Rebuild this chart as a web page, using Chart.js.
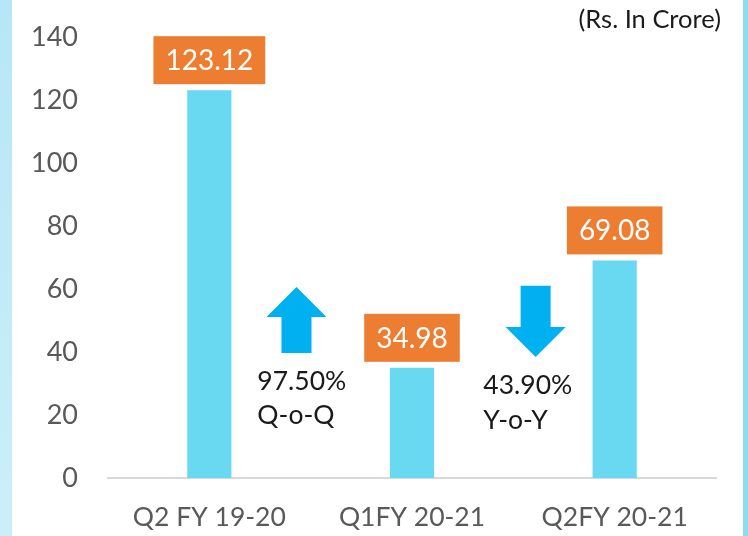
<!DOCTYPE html>
<html>
<head>
<meta charset="utf-8">
<script src="https://cdn.jsdelivr.net/npm/chart.js@4/dist/chart.umd.min.js"></script>
<style>
  body { margin: 0; background: #fff; }
  canvas { display: block; }
</style>
</head>
<body>
<canvas id="profitChart" width="748" height="536"></canvas>
<script>
const categories = ["Q2 FY 19-20", "Q1FY 20-21", "Q2FY 20-21"];
const profit = [123.12, 34.98, 69.08];
const changeValues = ["97.50%", "43.90%"];
const changeTypes = ["Q-o-Q", "Y-o-Y"];
const changeDirections = ["up", "down"];
const unitNote = "(Rs. In Crore)";

const FONT = "Lato, 'Open Sans', sans-serif";

// arrow + text placement, in category index / value units
const arrowSpots = [
    { x: 0.43, top: 60.6, bottom: 39.7, textX: 0.237, textY: [30.5, 19.7] },
    { x: 1.61, top: 61, bottom: 38.4, textX: 1.352, textY: [29.5, 18.4] }
];

const decorPlugin = {
    id: "decor",
    beforeDraw(chart) {
        const ctx = chart.ctx;
        ctx.save();
        const g = ctx.createLinearGradient(0, 0, 0, chart.height);
        g.addColorStop(0, "#b6e6f7");
        g.addColorStop(1, "#cbeff9");
        ctx.fillStyle = g;
        ctx.fillRect(0, 0, 12, chart.height);
        ctx.fillStyle = "#8fdcef";
        ctx.fillRect(743, 0, 5, chart.height);
        ctx.restore();
    },
    afterDatasetsDraw(chart) {
        const ctx = chart.ctx;
        const x = chart.scales.x, y = chart.scales.y;
        ctx.save();

        // value boxes
        const meta = chart.getDatasetMeta(0);
        ctx.font = "28px " + FONT;
        ctx.textAlign = "center";
        ctx.textBaseline = "middle";
        meta.data.forEach((bar, i) => {
            const txt = profit[i].toFixed(2);
            const w = ctx.measureText(txt).width + 24;
            const h = 48;
            const bottom = bar.y - 6;
            ctx.fillStyle = "#ed7d31";
            ctx.fillRect(bar.x - w / 2, bottom - h, w, h);
            ctx.fillStyle = "#ffffff";
            ctx.fillText(txt, bar.x, bottom - h / 2 + 1);
        });

        // arrows
        ctx.fillStyle = "#00b0f0";
        arrowSpots.forEach((s, i) => {
            const cx = x.getPixelForValue(s.x);
            const top = y.getPixelForValue(s.top);
            const bot = y.getPixelForValue(s.bottom);
            const headW = 60, shaftW = 30, headH = 30;
            ctx.beginPath();
            if (changeDirections[i] === "up") {
                ctx.moveTo(cx, top);
                ctx.lineTo(cx + headW / 2, top + headH);
                ctx.lineTo(cx + shaftW / 2, top + headH);
                ctx.lineTo(cx + shaftW / 2, bot);
                ctx.lineTo(cx - shaftW / 2, bot);
                ctx.lineTo(cx - shaftW / 2, top + headH);
                ctx.lineTo(cx - headW / 2, top + headH);
            } else {
                ctx.moveTo(cx, bot);
                ctx.lineTo(cx + headW / 2, bot - headH);
                ctx.lineTo(cx + shaftW / 2, bot - headH);
                ctx.lineTo(cx + shaftW / 2, top);
                ctx.lineTo(cx - shaftW / 2, top);
                ctx.lineTo(cx - shaftW / 2, bot - headH);
                ctx.lineTo(cx - headW / 2, bot - headH);
            }
            ctx.closePath();
            ctx.fill();
        });

        // change texts
        ctx.fillStyle = "#1a1a1a";
        ctx.font = "26.5px " + FONT;
        ctx.textAlign = "left";
        ctx.textBaseline = "middle";
        arrowSpots.forEach((s, i) => {
            const tx = x.getPixelForValue(s.textX);
            ctx.fillText(changeValues[i], tx, y.getPixelForValue(s.textY[0]));
            ctx.fillText(changeTypes[i], tx, y.getPixelForValue(s.textY[1]));
        });

        // unit note
        ctx.font = "25.5px " + FONT;
        ctx.textAlign = "right";
        ctx.fillText(unitNote, 721, 20);
        ctx.restore();
    }
};

new Chart(document.getElementById("profitChart"), {
    type: "bar",
    data: {
        labels: categories,
        datasets: [{
            data: profit,
            backgroundColor: "#69d8f1",
            categoryPercentage: 1,
            barPercentage: 0.218
        }]
    },
    options: {
        responsive: false,
        animation: false,
        layout: { padding: { left: 0, right: 32, top: 37, bottom: 0 } },
        plugins: {
            legend: { display: false },
            tooltip: { enabled: false }
        },
        scales: {
            x: {
                grid: { display: false, drawTicks: false },
                border: { color: "#d9d9d9", width: 2 },
                ticks: { color: "#595959", font: { size: 26.5, family: FONT }, padding: 24 },
                afterFit(scale) { scale.height = 58; }
            },
            y: {
                min: 0,
                max: 140,
                grid: { display: false, drawTicks: true, tickLength: 25 },
                border: { display: false },
                ticks: { stepSize: 20, color: "#595959", font: { size: 27, family: FONT }, padding: 5 },
                afterFit(scale) { scale.width = 108; }
            }
        }
    },
    plugins: [decorPlugin]
});
</script>
</body>
</html>
